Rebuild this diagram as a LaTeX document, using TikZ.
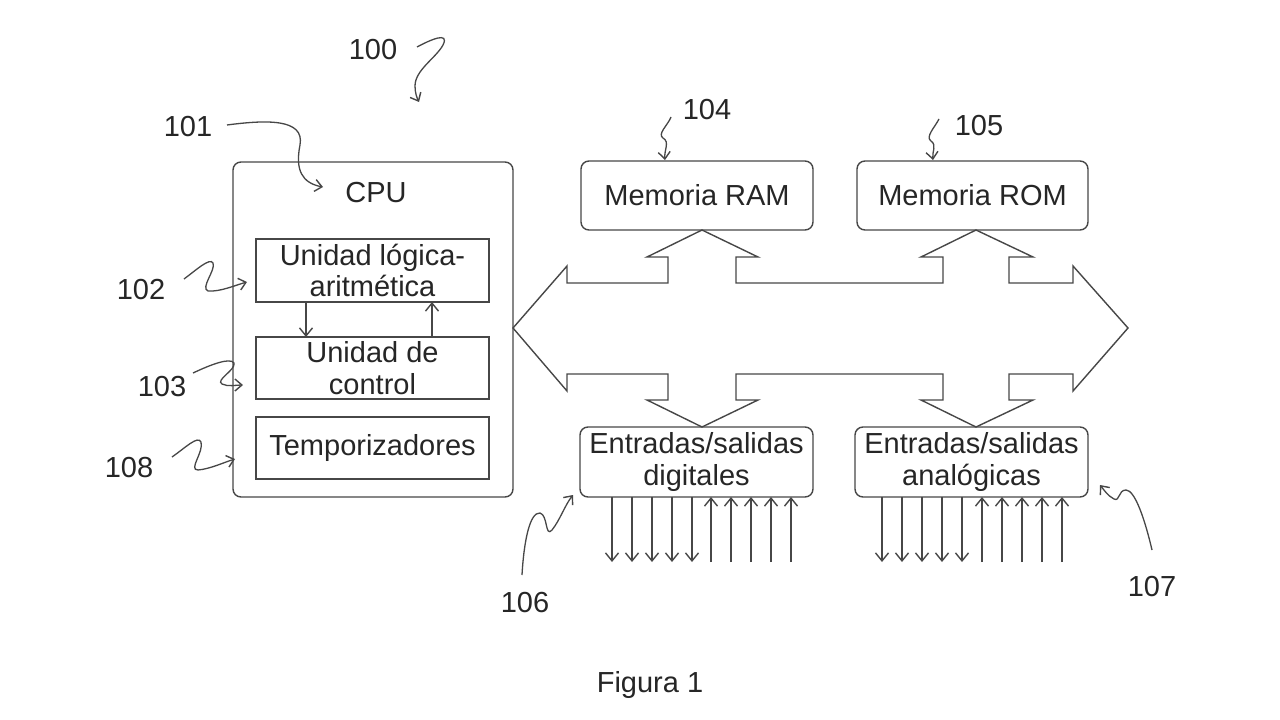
\documentclass[tikz,border=0pt]{standalone}
\usepackage{fontspec}
\setmainfont{Liberation Sans}
\usetikzlibrary{arrows.meta}
\definecolor{ln}{HTML}{474747}
\definecolor{tx}{HTML}{262626}
\begin{document}
\begin{tikzpicture}[x=1pt,y=-1pt,
  every node/.style={text=tx, font=\fontsize{29}{31.5}\selectfont},
  box/.style={draw=ln, line width=1.4pt, inner sep=0pt, outer sep=0pt, align=center},
  rbox/.style={box, rounded corners=8pt},
  sig/.style={draw=ln, line width=1.3pt, -{Straight Barb[length=8pt,width=13pt,line width=1.4pt]}},
  callout/.style={draw=ln, line width=1.3pt, -{Straight Barb[length=7pt,width=12pt,line width=1.4pt]}},
  lbl/.style={inner sep=0pt, outer sep=0pt},
  bus/.style={draw=ln, line width=1.4pt, line join=miter}
]
\useasboundingbox (0,0) rectangle (1280,720);
\fill[white] (0,0) rectangle (1280,720);

% CPU and its units
\node[rbox, minimum width=280pt, minimum height=335pt] (cpu) at (373,329.5) {};
\node[lbl] (cputitle) at (376,193) {CPU};
\node[box, minimum width=233pt, minimum height=63pt] (alu) at (372.5,270.5) {Unidad lógica-\\aritmética};
\node[box, minimum width=233pt, minimum height=62pt] (ctrl) at (372.5,368) {Unidad de\\control};
\node[box, minimum width=233pt, minimum height=62pt] (temp) at (372.5,448) {Temporizadores};
\draw[sig] (alu.south -| 306,0) -- (ctrl.north -| 306,0);
\draw[sig] (ctrl.north -| 432,0) -- (alu.south -| 432,0);

% memories and I/O
\node[rbox, minimum width=232pt, minimum height=69pt] (ram) at (697,195.5) {Memoria RAM};
\node[rbox, minimum width=231pt, minimum height=69pt] (rom) at (972.5,195.5) {Memoria ROM};
\node[rbox, minimum width=233pt, minimum height=70pt] (dio) at (696.5,462) {Entradas/salidas\\digitales};
\node[rbox, minimum width=233pt, minimum height=70pt] (aio) at (971.5,462) {Entradas/salidas\\analógicas};

% bus
\draw[bus] (513,328) -- (567,266) -- (567,283) -- (668,283) -- (668,257) -- (647,257)
  -- (702,230) -- (758,257) -- (736,257) -- (736,283) -- (943,283) -- (943,257) -- (921,257)
  -- (976,230) -- (1033,257) -- (1009,257) -- (1009,283) -- (1073,283) -- (1073,266)
  -- (1128,328) -- (1073,391) -- (1073,374) -- (1009,374) -- (1009,400) -- (1033,400)
  -- (976,427) -- (921,400) -- (943,400) -- (943,374) -- (736,374) -- (736,400) -- (758,400)
  -- (702,427) -- (647,400) -- (668,400) -- (668,374) -- (567,374) -- (567,391) -- cycle;

% I/O lines
\foreach \x in {612,632,652,672,692,882,902,922,942,962} {
  \coordinate (o\x) at (\x,562);
}
\foreach \x in {711,731,751,771,791,982,1002,1022,1042,1062} {
  \coordinate (i\x) at (\x,562);
}
\foreach \x in {612,632,652,672,692} \draw[sig] (dio.south -| \x,0) -- (o\x);
\foreach \x in {711,731,751,771,791} \draw[sig] (i\x) -- (dio.south -| \x,0);
\foreach \x in {882,902,922,942,962} \draw[sig] (aio.south -| \x,0) -- (o\x);
\foreach \x in {982,1002,1022,1042,1062} \draw[sig] (i\x) -- (aio.south -| \x,0);

% reference numerals
\node[lbl] (l100) at (373,50) {100};
\node[lbl] (l101) at (188,127) {101};
\node[lbl] (l102) at (141,290) {102};
\node[lbl] (l103) at (162,387) {103};
\node[lbl] (l108) at (129,468) {108};
\node[lbl] (l104) at (707,110) {104};
\node[lbl] (l105) at (979,126) {105};
\node[lbl] (l106) at (525,603) {106};
\node[lbl] (l107) at (1152,587) {107};
\node[lbl, anchor=base] (fig) at (650,692) {Figura 1};

% callout squiggles
\coordinate (s100) at (417,47);  \coordinate (e100) at (419,102);
\coordinate (s101) at (227,125); \coordinate (e101) at (323,187);
\coordinate (s102) at (184,279); \coordinate (e102) at (247,282);
\coordinate (s103) at (193,373); \coordinate (e103) at (243,385);
\coordinate (s108) at (172,457); \coordinate (e108) at (235,459);
\coordinate (s104) at (671,117); \coordinate (e104) at (665,160);
\coordinate (s105) at (939,119); \coordinate (e105) at (933,160);
\coordinate (s106) at (522,575); \coordinate (e106) at (573,495);
\coordinate (s107) at (1152,550); \coordinate (e107) at (1100,485);

\draw[callout] (s100) .. controls (430,40) and (450,31) .. (443,45)
  .. controls (436,58) and (415,70) .. (415,86) .. controls (415,93) and (417,98) .. (e100);
\draw[callout] (s101) .. controls (265,120) and (305,118) .. (300,145)
  .. controls (295,170) and (302,183) .. (e101);
\draw[callout] (s102) .. controls (195,271) and (210,257) .. (213,263)
  .. controls (216,270) and (200,288) .. (208,291) .. controls (220,292) and (236,285) .. (e102);
\draw[callout] (s103) .. controls (210,365) and (230,357) .. (234,363)
  .. controls (236,370) and (215,380) .. (222,384) .. controls (228,387) and (236,385) .. (e103);
\draw[callout] (s108) .. controls (185,448) and (198,435) .. (201,442)
  .. controls (204,452) and (188,470) .. (198,470) .. controls (210,469) and (225,462) .. (e108);
\draw[callout] (s104) .. controls (668,125) and (657,134) .. (663,138)
  .. controls (670,142) and (664,150) .. (e104);
\draw[callout] (s105) .. controls (935,127) and (925,137) .. (931,141)
  .. controls (937,145) and (932,152) .. (e105);
\draw[callout] (s106) .. controls (524,540) and (530,512) .. (540,513)
  .. controls (548,515) and (545,538) .. (552,530) .. controls (560,520) and (565,505) .. (e106);
\draw[callout] (s107) .. controls (1145,520) and (1135,490) .. (1126,490)
  .. controls (1118,490) and (1120,502) .. (1114,499) .. controls (1108,496) and (1104,490) .. (e107);
\end{tikzpicture}
\end{document}
